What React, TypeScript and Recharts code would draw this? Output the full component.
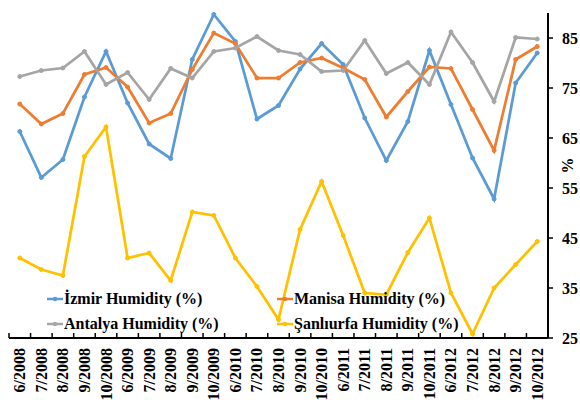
import { LineChart, Line, XAxis, YAxis, Legend } from "recharts";

const months = [
  "6/2008", "7/2008", "8/2008", "9/2008", "10/2008",
  "6/2009", "7/2009", "8/2009", "9/2009", "10/2009",
  "6/2010", "7/2010", "8/2010", "9/2010", "10/2010",
  "6/2011", "7/2011", "8/2011", "9/2011", "10/2011",
  "6/2012", "7/2012", "8/2012", "9/2012", "10/2012",
];

const izmir = [
  66.3, 57.1, 60.7, 73.2, 82.3, 72.0, 63.8, 60.9, 80.7, 89.7,
  84.3, 68.8, 71.5, 78.8, 83.9, 79.7, 69.0, 60.5, 68.3, 82.5,
  71.7, 61.0, 52.8, 76.0, 82.0,
];
const manisa = [
  71.8, 67.8, 69.9, 77.7, 79.1, 75.2, 68.0, 69.9, 78.7, 86.0,
  83.9, 77.0, 77.0, 80.1, 81.0, 79.0, 76.7, 69.2, 74.3, 79.2,
  78.9, 70.7, 62.5, 80.7, 83.3,
];
const antalya = [
  77.3, 78.5, 79.0, 82.3, 75.7, 78.1, 72.7, 78.9, 77.0, 82.3,
  83.0, 85.3, 82.5, 81.7, 78.3, 78.5, 84.5, 77.9, 80.1, 75.7,
  86.2, 80.1, 72.3, 85.1, 84.8,
];
const sanliurfa = [
  41.0, 38.7, 37.5, 61.3, 67.2, 41.0, 42.0, 36.5, 50.2, 49.5,
  41.0, 35.3, 28.7, 46.7, 56.3, 45.5, 34.0, 33.7, 42.1, 49.0,
  34.0, 25.8, 35.0, 39.7, 44.3,
];
const yTicks = [25, 35, 45, 55, 65, 75, 85];

const series = [
  { key: "izmir", name: "İzmir Humidity (%)", color: "#5B9BD5" },
  { key: "manisa", name: "Manisa Humidity (%)", color: "#ED7D31" },
  { key: "antalya", name: "Antalya Humidity (%)", color: "#A5A5A5" },
  { key: "sanliurfa", name: "Şanlıurfa Humidity (%)", color: "#FFC000" },
];

const data = months.map((m, i) => ({
  month: m,
  izmir: izmir[i],
  manisa: manisa[i],
  antalya: antalya[i],
  sanliurfa: sanliurfa[i],
}));

const FONT = "Liberation Serif";
const W = 580;
const H = 400;
const M = { top: 13, right: 0, bottom: 0, left: 9 };
const Y_W = 32;
const X_H = 62;
const BAND = (W - M.left - M.right - Y_W) / months.length;

function MonthTick({ x, y, payload, index }: any) {
  const axisY = y - 8;
  const bx = x - BAND / 2;
  return (
    <g>
      <line x1={bx} x2={bx} y1={axisY} y2={axisY - 5} stroke="#000" strokeWidth={1.5} />
      {index === months.length - 1 && (
        <line x1={x + BAND / 2} x2={x + BAND / 2} y1={axisY} y2={axisY - 5} stroke="#000" strokeWidth={1.5} />
      )}
      <text
        x={x}
        y={y + 2}
        transform={`rotate(-90, ${x}, ${y + 2})`}
        textAnchor="end"
        dominantBaseline="central"
        style={{ fontFamily: FONT, fontWeight: 700, fontSize: 16 }}
        fill="#000"
      >
        {payload.value}
      </text>
    </g>
  );
}

function LegendBox() {
  return (
    <div
      style={{
        display: "grid",
        gridTemplateColumns: "230px 230px",
        fontFamily: FONT,
        fontWeight: 700,
        fontSize: 16,
        lineHeight: "25px",
        color: "#000",
      }}
    >
      {series.map((s) => (
        <div key={s.key} style={{ display: "flex", alignItems: "center", whiteSpace: "nowrap" }}>
          <svg width={16} height={10} style={{ marginRight: 1 }}>
            <line x1={0} x2={16} y1={5} y2={5} stroke={s.color} strokeWidth={2.5} />
            <circle cx={8} cy={5} r={2.2} fill={s.color} />
          </svg>
          <span>{s.name}</span>
        </div>
      ))}
    </div>
  );
}

export default function App() {
  return (
    <div style={{ position: "absolute", left: 0, top: 0, background: "#fff" }}>
      <LineChart width={W} height={H} data={data} margin={M}>
        <XAxis
          dataKey="month"
          scale="band"
          height={X_H}
          interval={0}
          tickLine={false}
          tickSize={0}
          tickMargin={8}
          axisLine={{ stroke: "#000", strokeWidth: 2 }}
          tick={<MonthTick />}
        />
        <YAxis
          orientation="right"
          width={Y_W}
          domain={[25, 90]}
          ticks={yTicks}
          interval={0}
          tickSize={5}
          tickMargin={9}
          tickLine={{ stroke: "#000", strokeWidth: 1.5 }}
          axisLine={{ stroke: "#000", strokeWidth: 2 }}
          tick={{ fontWeight: 700, fontSize: 16, fill: "#000", style: { fontFamily: FONT } }}
          label={{
            content: ({ viewBox }: any) => {
              const lx = viewBox.x + 19;
              const ly = viewBox.y + viewBox.height / 2 - 10;
              return (
                <text
                  x={lx}
                  y={ly}
                  transform={`rotate(-90, ${lx}, ${ly})`}
                  textAnchor="middle"
                  dominantBaseline="central"
                  style={{ fontFamily: FONT, fontWeight: 700, fontSize: 16 }}
                  fill="#000"
                >
                  %
                </text>
              );
            },
          }}
        />
        {series.map((s) => (
          <Line
            key={s.key}
            type="linear"
            dataKey={s.key}
            name={s.name}
            stroke={s.color}
            strokeWidth={2.75}
            dot={{ r: 2, fill: s.color, stroke: s.color, strokeWidth: 1 }}
            isAnimationActive={false}
          />
        ))}
        <Legend
          layout="horizontal"
          verticalAlign="middle"
          align="center"
          content={<LegendBox />}
          wrapperStyle={{ position: "absolute", left: 47, top: 286, width: 470 }}
        />
      </LineChart>
    </div>
  );
}
